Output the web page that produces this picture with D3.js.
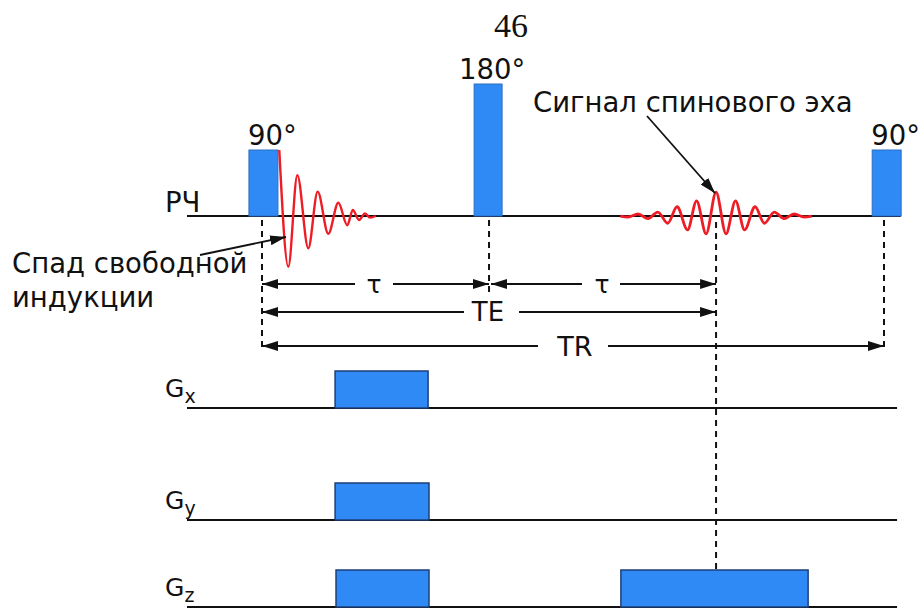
<!DOCTYPE html>
<html>
<head>
<meta charset="utf-8">
<script src="https://cdn.jsdelivr.net/npm/d3@7"></script>
<style>
  html, body { margin: 0; padding: 0; background: #fff; }
  svg { display: block; }
  text { font-family: "DejaVu Sans", Verdana, sans-serif; fill: #111; }
</style>
</head>
<body>
<svg id="chart" width="922" height="609"></svg>
<script>
// Spin-echo pulse sequence. Time is in arbitrary units, TR = 100.
const TAU = 36.5;
const TE = 73;
const TR = 100;

// RF pulses: flip angle, start time, duration
const rfFlip = [90, 180, 90];
const rfStart = [-2.1, 34.1, 98.1];
const rfDuration = [4.66, 4.5, 4.66];
const rfLabels = ["90°", "180°", "90°"];

// Free induction decay: extrema after the 90° pulse [time, amplitude]
const fidPoints = [
  [2.78, 1.0], [4.23, -0.77], [5.68, 0.62], [7.44, -0.49], [8.95, 0.37],
  [10.66, -0.27], [12.27, 0.2], [13.71, -0.14], [14.6, 0.09], [15.6, -0.06],
  [16.56, 0.04], [17.36, -0.025], [18.3, 0]
];

// Spin echo: extrema around TE [offset from TE, amplitude]
const echoPoints = [
  [-15.4, 0], [-14.15, -0.015], [-12.54, 0.03], [-10.93, -0.04], [-9.37, 0.06],
  [-7.77, -0.11], [-6.27, 0.14], [-4.58, -0.21], [-3.13, 0.23], [-1.6, -0.27],
  [0, 0.36],
  [1.6, -0.27], [3.13, 0.23], [4.58, -0.21], [6.27, 0.14], [7.77, -0.11],
  [9.37, 0.06], [10.93, -0.04], [12.54, 0.03], [14.15, -0.015], [15.4, 0]
];

// Gradient channels and their lobes [start, end, amplitude]
const gradNames = ["x", "y", "z"];
const gradLobes = [
  [[11.75, 26.7, 1]],
  [[11.75, 26.85, 1]],
  [[11.9, 26.85, 1], [57.7, 87.8, 1]]
];

// Timing intervals shown with dimension arrows
const intervalLabels = ["τ", "τ", "TE", "TR"];
const intervalStart = [0, TAU, 0, 0];
const intervalEnd = [TAU, TE, TE, TR];

const svg = d3.select("#chart");
const BLUE = "#2f8af5";
const EDGE = "#1d3f78";
const RED = "#ee1c24";
const FONT = "27.5px";

const x = d3.scaleLinear().domain([0, TR]).range([262, 884]);
const yRF = d3.scaleLinear().domain([0, 1]).range([216, 150]);
const gradBase = [408, 520, 607];
const yGrad = gradBase.map(b => d3.scaleLinear().domain([0, 1]).range([b, b - 37]));

// Arrowhead marker
const defs = svg.append("defs");
defs.append("marker")
  .attr("id", "arrow")
  .attr("viewBox", "0 -5 16 10")
  .attr("refX", 16).attr("refY", 0)
  .attr("markerUnits", "userSpaceOnUse")
  .attr("markerWidth", 16).attr("markerHeight", 10)
  .attr("orient", "auto-start-reverse")
  .append("path").attr("d", "M0,-5L16,0L0,5Z").attr("fill", "#111");

// Page number
svg.append("text").attr("x", 511).attr("y", 37)
  .attr("text-anchor", "middle")
  .style("font-family", "'Liberation Serif', 'DejaVu Serif', serif")
  .style("font-size", "34px")
  .text("46");

// RF baseline
svg.append("line")
  .attr("x1", x(-12.06)).attr("x2", x(102.7))
  .attr("y1", yRF(0)).attr("y2", yRF(0))
  .attr("stroke", "#111").attr("stroke-width", 2);

svg.append("text").attr("x", 165).attr("y", 212)
  .style("font-size", FONT).text("РЧ");

// RF pulses
const pulses = rfFlip.map((f, i) => ({ amp: f / 90, start: rfStart[i], dur: rfDuration[i], label: rfLabels[i] }));
svg.selectAll("rect.rf").data(pulses).join("rect")
  .attr("class", "rf")
  .attr("x", d => x(d.start))
  .attr("width", d => x(d.start + d.dur) - x(d.start))
  .attr("y", d => yRF(d.amp))
  .attr("height", d => yRF(0) - yRF(d.amp))
  .attr("fill", BLUE).attr("stroke", "#2a6fc4").attr("stroke-width", 1);

svg.selectAll("text.rf").data(pulses).join("text")
  .attr("class", "rf")
  .attr("x", d => x(d.start) - 1)
  .attr("y", d => yRF(d.amp) - 5)
  .style("font-size", FONT)
  .attr("dx", d => d.amp > 1 ? -14 : 0)
  .text(d => d.label);

// Signals
const signalLine = d3.line()
  .x(d => x(d[0]))
  .y(d => yRF(d[1]))
  .curve(d3.curveMonotoneX);

svg.append("path").datum(fidPoints)
  .attr("d", signalLine)
  .attr("fill", "none").attr("stroke", RED).attr("stroke-width", 2.4);

svg.append("path").datum(echoPoints.map(p => [TE + p[0], p[1]]))
  .attr("d", signalLine)
  .attr("fill", "none").attr("stroke", RED).attr("stroke-width", 2.8);

// Dashed timing guides [time, yTop, yBottom]
const guides = [[0, 220, 352], [TAU, 220, 292], [TE, 222, 572], [TR, 220, 352]];
svg.selectAll("line.guide").data(guides).join("line")
  .attr("class", "guide")
  .attr("x1", d => x(d[0])).attr("x2", d => x(d[0]))
  .attr("y1", d => d[1]).attr("y2", d => d[2])
  .attr("stroke", "#111").attr("stroke-width", 2)
  .attr("stroke-dasharray", "6,5");

// Dimension arrows with a gap for the label
const rowY = [284, 284, 312, 346];
const labelGap = [[-19, 19], [-20, 18], [-24, 31], [-37, 33]];
const labelX = [374, 602, 488, 575];
const labelSize = ["25px", "25px", "26px", "27px"];
intervalLabels.forEach((lab, i) => {
  const y = rowY[i];
  const x0 = x(intervalStart[i]) + (i === 1 ? 2 : 0);
  const x1 = x(intervalEnd[i]);
  svg.append("line")
    .attr("x1", labelX[i] + labelGap[i][0]).attr("x2", x0)
    .attr("y1", y).attr("y2", y)
    .attr("stroke", "#111").attr("stroke-width", 1.8)
    .attr("marker-end", "url(#arrow)");
  svg.append("line")
    .attr("x1", labelX[i] + labelGap[i][1]).attr("x2", x1)
    .attr("y1", y).attr("y2", y)
    .attr("stroke", "#111").attr("stroke-width", 1.8)
    .attr("marker-end", "url(#arrow)");
  svg.append("text")
    .attr("x", labelX[i]).attr("y", y)
    .attr("text-anchor", "middle").attr("dominant-baseline", "central")
    .style("font-size", labelSize[i])
    .text(lab);
});

// Annotations
svg.append("text").attr("x", 533).attr("y", 112)
  .style("font-size", FONT).text("Сигнал спинового эха");
svg.append("line")
  .attr("x1", 647).attr("y1", 116).attr("x2", x(TE) - 1).attr("y2", yRF(0.36) + 1)
  .attr("stroke", "#111").attr("stroke-width", 1.8)
  .attr("marker-end", "url(#arrow)");

svg.append("text").attr("x", 12).attr("y", 273)
  .style("font-size", FONT).text("Спад свободной");
svg.append("text").attr("x", 12).attr("y", 307)
  .style("font-size", FONT).text("индукции");
svg.append("line")
  .attr("x1", 200).attr("y1", 255).attr("x2", 286).attr("y2", 237)
  .attr("stroke", "#111").attr("stroke-width", 1.8)
  .attr("marker-end", "url(#arrow)");

// Gradient channels
gradNames.forEach((name, i) => {
  const y = yGrad[i];
  svg.append("line")
    .attr("x1", x(-12.06)).attr("x2", x(102.1))
    .attr("y1", y(0)).attr("y2", y(0))
    .attr("stroke", "#111").attr("stroke-width", 2);
  svg.selectAll("rect.g" + name).data(gradLobes[i]).join("rect")
    .attr("class", "g" + name)
    .attr("x", d => x(d[0]))
    .attr("width", d => x(d[1]) - x(d[0]))
    .attr("y", d => y(d[2]))
    .attr("height", d => y(0) - y(d[2]))
    .attr("fill", BLUE).attr("stroke", EDGE).attr("stroke-width", 1.5);
  const t = svg.append("text").attr("x", 165).attr("y", y(0) - 11)
    .style("font-size", "25px");
  t.append("tspan").text("G");
  t.append("tspan").attr("dy", 6).style("font-size", "19px").text(name);
});
</script>
</body>
</html>
